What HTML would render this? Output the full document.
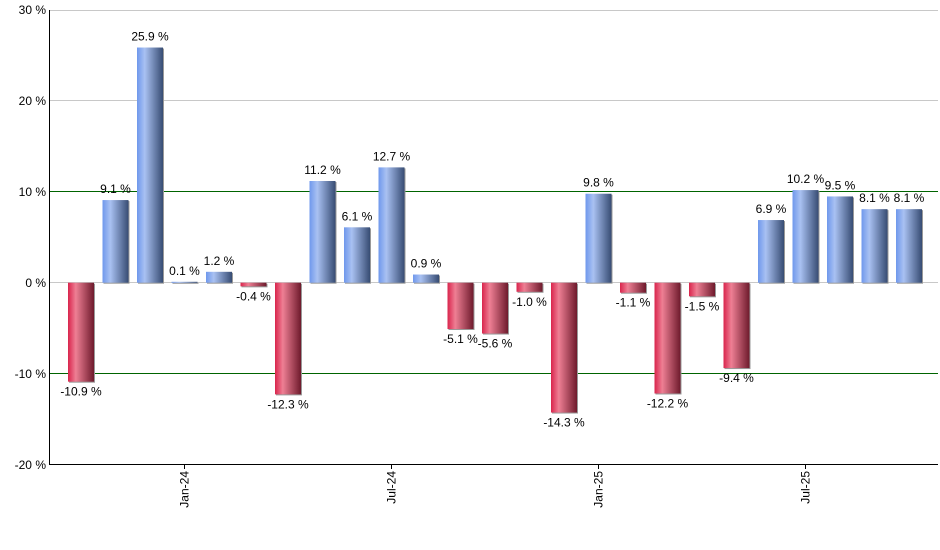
<!DOCTYPE html><html><head><style>body{margin:0;background:#fff}svg{display:block;font-family:"Liberation Sans",sans-serif}</style></head><body>
<svg width="940" height="550" xmlns="http://www.w3.org/2000/svg">
<defs>
<linearGradient id="b" x1="0" x2="1"><stop offset="0" stop-color="#6f98ec"/><stop offset="0.3" stop-color="#a9c1f2"/><stop offset="1" stop-color="#374c73"/></linearGradient>
<linearGradient id="r" x1="0" x2="1"><stop offset="0" stop-color="#d9244c"/><stop offset="0.3" stop-color="#ee7f94"/><stop offset="1" stop-color="#6e1a2c"/></linearGradient>
</defs>
<g stroke-width="1">
<line x1="49" x2="938" y1="10.5" y2="10.5" stroke="#c8c8c8"/>
<line x1="49" x2="938" y1="100.5" y2="100.5" stroke="#c8c8c8"/>
<line x1="49" x2="938" y1="282.5" y2="282.5" stroke="#c8c8c8"/>
<line x1="49" x2="938" y1="191.5" y2="191.5" stroke="#006400"/>
<line x1="49" x2="938" y1="373.5" y2="373.5" stroke="#006400"/>
</g>
<g id="bars" font-size="12" text-anchor="middle" fill="#000"></g>
<line x1="49.5" x2="49.5" y1="10" y2="464" stroke="#000"/>
<line x1="49" x2="938" y1="464.5" y2="464.5" stroke="#000"/>
<g font-size="12" text-anchor="end">
<text x="46" y="14">30 %</text><text x="46" y="105">20 %</text><text x="46" y="196">10 %</text><text x="46" y="287">0 %</text><text x="46" y="378">-10 %</text><text x="46" y="469">-20 %</text>
</g>
<g font-size="12" text-anchor="end" id="xl"></g>
</svg>
<script>
var v=[-10.9,9.1,25.9,0.1,1.2,-0.4,-12.3,11.2,6.1,12.7,0.9,-5.1,-5.6,-1.0,-14.3,9.8,-1.1,-12.2,-1.5,-9.4,6.9,10.2,9.5,8.1,8.1];
var g=document.getElementById('bars'),s='';
function y(a){return 282.7-a*9.08}
v.forEach(function(a,i){var x=68+i*34.5,w=26,t=Math.min(y(a),y(0)),h=Math.max(Math.abs(y(a)-y(0)),1);
s+='<rect x="'+(x+1)+'" y="'+(t+1)+'" width="'+w+'" height="'+h+'" fill="#999"/>';
s+='<rect x="'+x+'" y="'+t+'" width="'+w+'" height="'+h+'" fill="url(#'+(a>=0?'b':'r')+')"/>';
var ly=a>=0?y(a)-7:y(a)+14;
s+='<text x="'+(x+13)+'" y="'+ly+'">'+a.toFixed(1)+' %</text>';});
g.innerHTML=s;
var xl=document.getElementById('xl'),q='';
[[3,'Jan-24'],[9,'Jul-24'],[15,'Jan-25'],[21,'Jul-25']].forEach(function(p){var x=68+p[0]*34.5+13;
q+='<line x1="'+x+'" x2="'+x+'" y1="464" y2="469" stroke="#000"/><text transform="translate('+(x+4)+',471) rotate(-90)">'+p[1]+'</text>';});
xl.innerHTML=q;
</script>
</body></html>
